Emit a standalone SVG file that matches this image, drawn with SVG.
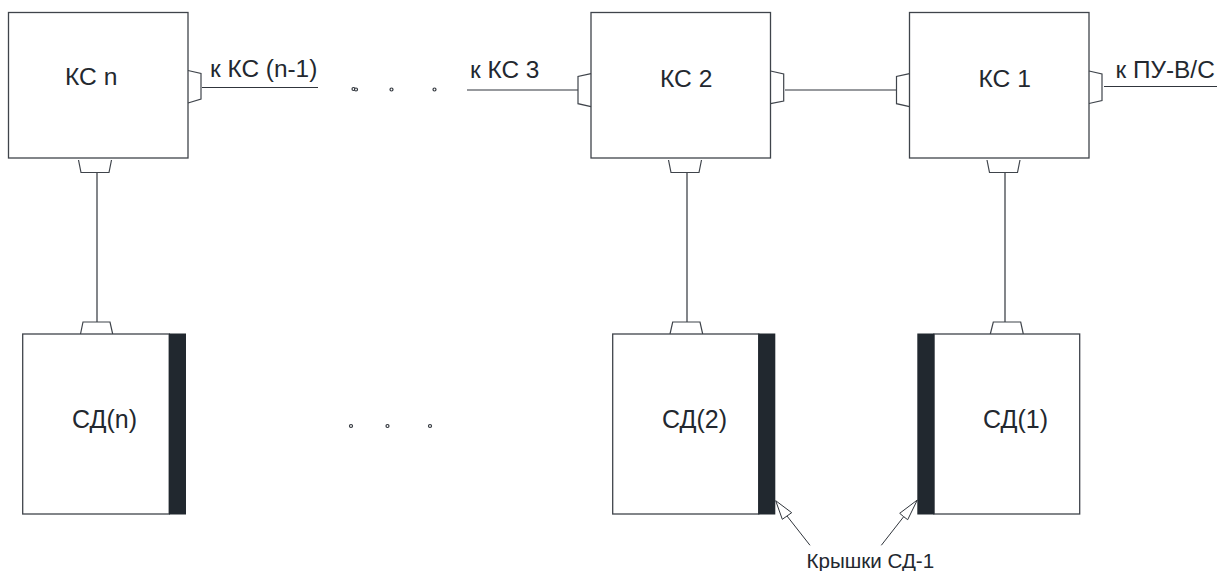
<svg xmlns="http://www.w3.org/2000/svg" width="1217" height="571" viewBox="0 0 1217 571">
<style>
.box{fill:#fff;stroke:#3f444b;stroke-width:1.3}
.lid{fill:#21282f;stroke:none}
.port{fill:none;stroke:#3f444b;stroke-width:1.2}
.wire{fill:none;stroke:#30353c;stroke-width:1.2}
.dot{fill:#fff;stroke:#30353c;stroke-width:1.2}
.arrow{fill:#fff;stroke:#30353c;stroke-width:1}
text{font-family:"Liberation Sans",Arial,sans-serif;fill:#23282f}
.n{font-size:24.6px}
.s{font-size:25px}
.l{font-size:24.4px}
.c{font-size:20.6px}
</style>
<rect width="1217" height="571" fill="#fff"/>
<g id="connectors">
<path class="wire" d="M202 87.5H318"/>
<path class="wire" d="M467 90H578"/>
<path class="wire" d="M785 90H896"/>
<path class="wire" d="M1104 86.5H1217"/>
<path class="wire" d="M97 173V322"/>
<path class="wire" d="M687 173V322"/>
<path class="wire" d="M1005 173V322"/>
<path class="arrow" d="M810 545.3L787 516L782.3 519.3L775.7 500.7L791.7 512.7L787 516"/>
<path class="arrow" d="M881.3 545.3L903.7 516.7L907.7 519.7L917.3 500L899.7 513.3L903.7 516.7"/>
</g>
<g id="ks-n">
<rect class="box" x="8.5" y="12.5" width="179.5" height="145.5"/>
<path class="port" d="M188 70.5L201 73.5V99L188 103"/>
<path class="port" d="M78.5 160L81 172.5H109L111.5 160"/>
<text class="n" x="65" y="85">КС n</text>
</g>
<g id="ks-2">
<rect class="box" x="591" y="12.5" width="179.5" height="145.5"/>
<path class="port" d="M591 73.7L578 76.5V103.7L591 106.7"/>
<path class="port" d="M770.5 71L783.7 74V101L770.5 103.7"/>
<path class="port" d="M668.5 160L671 172.5H699L701.5 160"/>
<text class="n" x="660" y="87.3">КС 2</text>
</g>
<g id="ks-1">
<rect class="box" x="909.5" y="12.5" width="179.5" height="145.5"/>
<path class="port" d="M909.5 73.7L896.5 76.5V103.7L909.5 106.7"/>
<path class="port" d="M1089 71L1102 74V100.5L1089 103.5"/>
<path class="port" d="M987 160L989.5 172.5H1017.5L1020 160"/>
<text class="n" x="978.5" y="87.3">КС 1</text>
</g>
<g id="sd-n">
<path class="port" d="M80.5 334L83 322H110L112.7 334"/>
<rect class="box" x="22.7" y="334" width="146.5" height="180"/>
<rect class="lid" x="169" y="333.5" width="17" height="181"/>
<text class="s" x="72" y="427.5">СД(n)</text>
</g>
<g id="sd-2">
<path class="port" d="M670 334L672.7 322H700L702.7 334"/>
<rect class="box" x="612.7" y="334" width="146" height="180"/>
<rect class="lid" x="758.3" y="333.5" width="17" height="181"/>
<text class="s" x="662" y="427.5">СД(2)</text>
</g>
<g id="sd-1">
<path class="port" d="M990.3 334L993.3 322H1020.7L1023.3 334"/>
<rect class="box" x="934" y="334" width="145.7" height="180"/>
<rect class="lid" x="917.3" y="333.5" width="17" height="181"/>
<text class="s" x="983" y="427.5">СД(1)</text>
</g>
<g id="labels">
<text class="l" x="210" y="76.7">к КС (n-1)</text>
<text class="l" x="470" y="78.3">к КС 3</text>
<text class="l" x="1115.5" y="78.3">к ПУ-В/С</text>
<text class="c" x="806.5" y="568.3">Крышки СД-1</text>
</g>
<g id="dots">
<circle class="dot" cx="353.5" cy="89" r="1.5"/>
<circle class="dot" cx="356" cy="89.5" r="1.5"/>
<circle class="dot" cx="391.5" cy="89.5" r="1.5"/>
<circle class="dot" cx="434.5" cy="89.5" r="1.5"/>
<circle class="dot" cx="351" cy="426" r="1.5"/>
<circle class="dot" cx="387.5" cy="426" r="1.5"/>
<circle class="dot" cx="430" cy="426" r="1.5"/>
</g>
</svg>
